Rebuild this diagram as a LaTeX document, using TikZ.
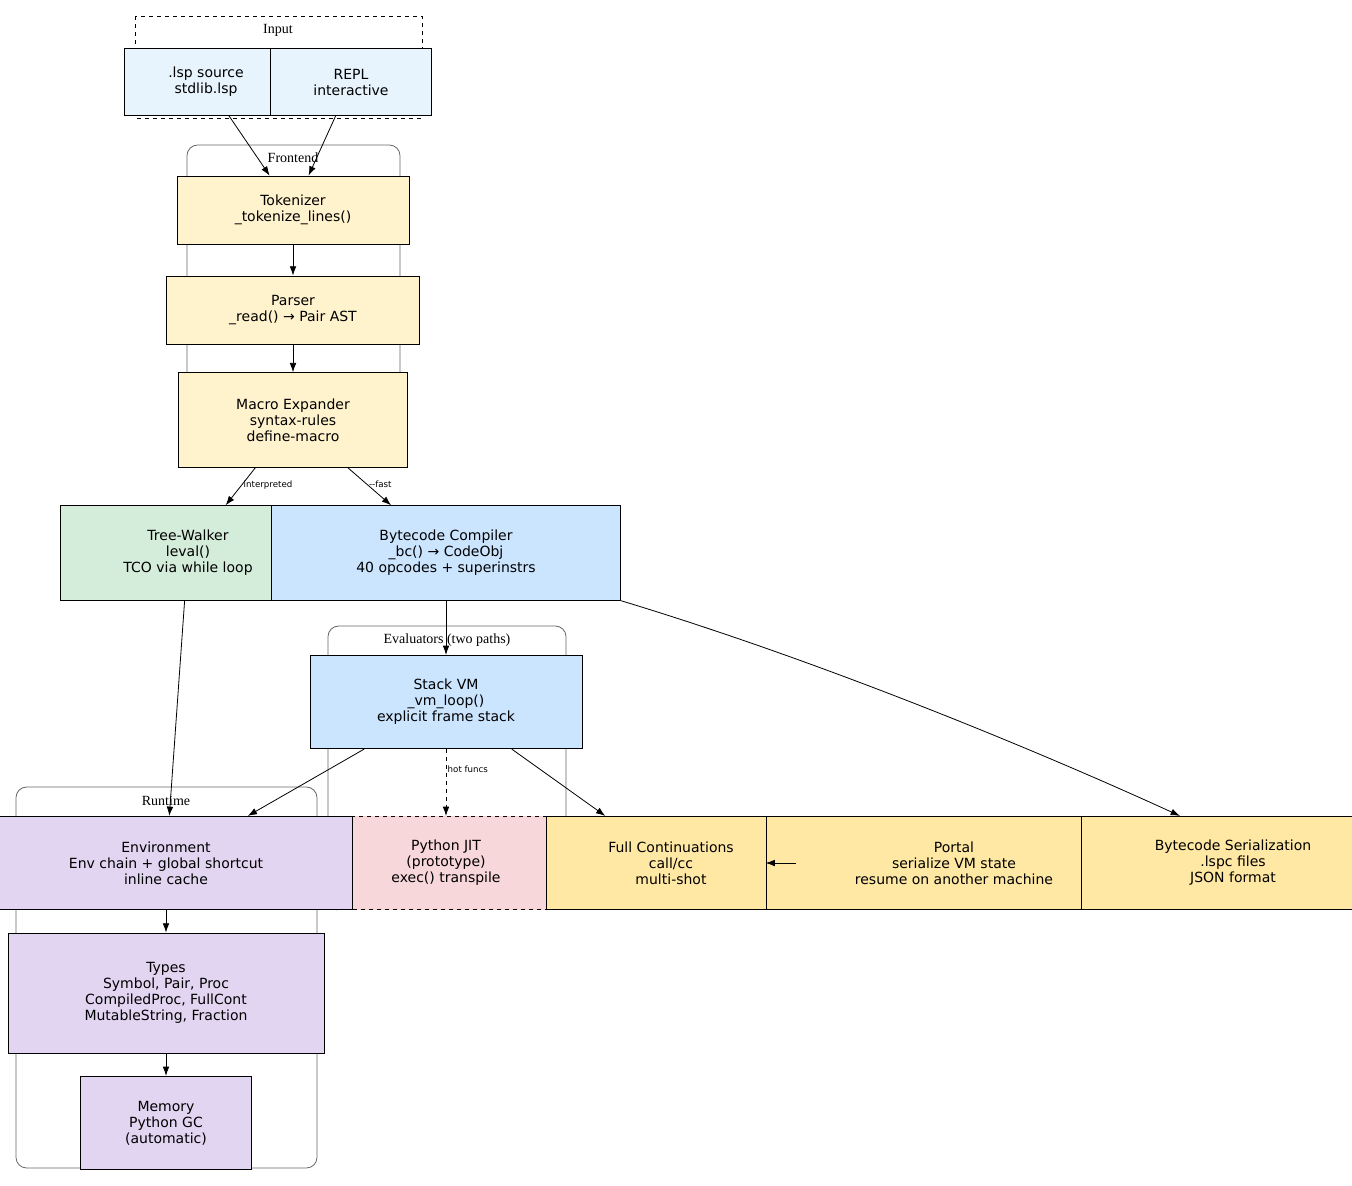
\documentclass[tikz,border=0pt]{standalone}
\usepackage{fontspec}
\setmainfont{Liberation Serif}
\newfontfamily\nodefont{DejaVu Sans}
\usetikzlibrary{arrows.meta}
\definecolor{cin}{HTML}{E8F4FD}
\definecolor{cfe}{HTML}{FFF3CD}
\definecolor{ctw}{HTML}{D4EDDA}
\definecolor{cbc}{HTML}{CCE5FF}
\definecolor{cjit}{HTML}{F8D7DA}
\definecolor{crt}{HTML}{E2D5F1}
\definecolor{cout}{HTML}{FFE8A3}
\begin{document}
\begin{tikzpicture}[x=0.75pt,y=-0.75pt,
  box/.style={draw,rectangle,align=center,font=\nodefont\fontsize{10.5}{12}\selectfont,inner sep=0pt,line width=0.6pt},
  clus/.style={draw=black!60,rounded corners=8pt,line width=0.6pt},
  clab/.style={font=\fontsize{10.5}{12}\selectfont},
  arr/.style={-{Latex[length=7pt,width=5pt]},line width=0.6pt},
  elab/.style={font=\nodefont\fontsize{6.5}{8}\selectfont,inner sep=1pt}]
\useasboundingbox (0,0) rectangle (1352,1185);
% clusters
\draw[dashed,line width=0.6pt] (135,16) rectangle (422,118);
\node[clab] (linput) at (278,30) {Input};
\draw[clus] (187,145) rectangle (400,466);
\node[clab] (lfront) at (293,158) {Frontend};
\draw[clus] (328,626) rectangle (566,908);
\node[clab] (leval) at (447,640) {Evaluators (two paths)};
\draw[clus] (16,787) rectangle (317,1168);
\node[clab] (lrt) at (166,801) {Runtime};
% nodes
\node[box,fill=cin,minimum width=123,minimum height=50] (lsp) at (206,82) {.lsp source\\stdlib.lsp};
\node[box,fill=cin,minimum width=121,minimum height=50] (repl) at (351,82) {REPL\\interactive};
\node[box,fill=cfe,minimum width=174,minimum height=51] (tok) at (293,210) {Tokenizer\\\_tokenize\_lines()};
\node[box,fill=cfe,minimum width=190,minimum height=51] (par) at (293,310) {Parser\\\_read() → Pair AST};
\node[box,fill=cfe,minimum width=172,minimum height=71] (mac) at (293,420) {Macro Expander\\syntax-rules\\define-macro};
\node[box,fill=ctw,minimum width=192,minimum height=71] (tw) at (188,553) {Tree-Walker\\leval()\\TCO via while loop};
\node[box,fill=cbc,minimum width=262,minimum height=71] (bc) at (446,553) {Bytecode Compiler\\\_bc() → CodeObj\\40 opcodes + superinstrs};
\node[box,fill=cbc,minimum width=204,minimum height=70] (vm) at (446,702) {Stack VM\\\_vm\_loop()\\explicit frame stack};
\node[box,fill=cjit,dashed,minimum width=164,minimum height=70] (jit) at (446,863) {Python JIT\\(prototype)\\exec() transpile};
\node[box,fill=crt,minimum width=279,minimum height=70] (env) at (166,863) {Environment\\Env chain + global shortcut\\inline cache};
\node[box,fill=crt,minimum width=237,minimum height=90] (typ) at (166,993) {Types\\Symbol, Pair, Proc\\CompiledProc, FullCont\\MutableString, Fraction};
\node[box,fill=crt,minimum width=128,minimum height=70] (mem) at (166,1123) {Memory\\Python GC\\(automatic)};
\node[box,fill=cout,minimum width=187,minimum height=70] (fc) at (671,863) {Full Continuations\\call/cc\\multi-shot};
\node[box,fill=cout,minimum width=282,minimum height=70] (por) at (954,863) {Portal\\serialize VM state\\resume on another machine};
\node[box,fill=cout,minimum width=227,minimum height=70] (ser) at (1233,863) {Bytecode Serialization\\.lspc files\\JSON format};
% edges
\draw[arr] (lsp) -- (tok);
\draw[arr] (repl) -- (tok);
\draw[arr] (tok) -- (par);
\draw[arr] (par) -- (mac);
\draw[arr] (mac) -- node[elab,right,pos=0.45] {interpreted} (tw);
\draw[arr] (mac) -- node[elab,right,pos=0.45] {--fast} (bc);
\draw[arr] (tw) -- (env);
\draw[arr] (bc) -- (vm);
\draw[arr] (bc.south east) .. controls (850,670) and (1080,770) .. (ser.north west -| 1180,828);
\draw[arr] (vm) -- (env);
\draw[arr,dashed] (vm) -- node[elab,right,pos=0.3] {hot funcs} (jit);
\draw[arr] (vm) -- (fc);
\draw[arr] (fc) -- (por);
\draw[arr] (env) -- (typ);
\draw[arr] (typ) -- (mem);
\end{tikzpicture}
\end{document}
